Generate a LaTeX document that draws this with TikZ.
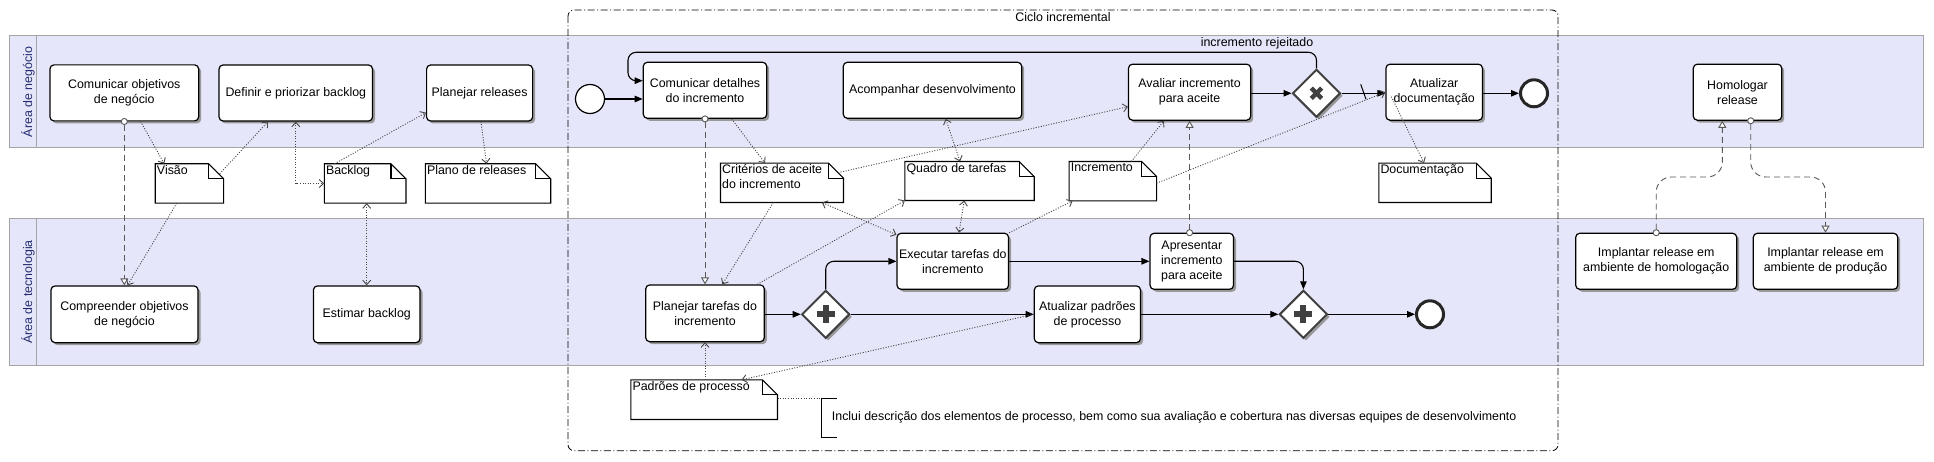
\documentclass[tikz,border=0pt]{standalone}
\usepackage{fontspec}
\setmainfont{Liberation Sans}
\usetikzlibrary{arrows.meta,shapes.geometric,shadows,calc}
\definecolor{lanefill}{RGB}{230,230,250}
\definecolor{laneline}{RGB}{165,165,165}
\definecolor{lanetext}{RGB}{35,45,110}
\definecolor{gwline}{RGB}{64,64,64}
\definecolor{assoc}{RGB}{70,70,70}
\tikzset{
  lane/.style={fill=lanefill, draw=laneline, line width=1pt},
  lanelab/.style={rotate=90, text=lanetext},
  group/.style={draw=black, line width=0.8pt, rounded corners=6pt, dash pattern=on 7pt off 2.5pt on 1pt off 2.5pt},
  shad/.style={drop shadow={shadow xshift=2.5pt, shadow yshift=-2.5pt, fill=black!40, opacity=1}},
  task/.style={draw=black, line width=1.2pt, fill=white, rounded corners=4pt, align=center, inner sep=2pt, shad},
  gw/.style={diamond, aspect=1, draw=gwline, line width=2pt, fill=white, minimum width=48pt, minimum height=48pt, inner sep=0pt, shad},
  gwmark/.style={draw=gwline},
  startev/.style={circle, draw=black, line width=1.2pt, fill=white, minimum size=29pt, inner sep=0pt},
  endev/.style={circle, draw=black!85, line width=3pt, fill=white, minimum size=27pt, inner sep=0pt},
  seq/.style={draw=black, line width=1.1pt, -{Triangle[length=8pt,width=6.5pt]}},
  assocl/.style={draw=assoc, line width=0.9pt, dash pattern=on 1pt off 1.6pt},
  toarr/.style={-{Straight Barb[length=4.5pt,width=8pt]}},
  botharr/.style={{Straight Barb[length=4.5pt,width=8pt]}-{Straight Barb[length=4.5pt,width=8pt]}},
  msg/.style={draw=black!65, line width=0.9pt, dash pattern=on 6pt off 4pt, shorten <=-3.5pt,
    {Circle[length=7pt,width=7pt,fill=white]}-{Triangle[length=7pt,width=8pt,fill=white]}},
  dobjbox/.style={draw=none, inner sep=0pt},
  dobjline/.style={draw=black, line width=1.1pt, fill=white},
  dobjtext/.style={anchor=north west, inner sep=1.5pt, align=left},
}
\newcommand{\dobj}[6]{%
  \node[dobjbox, minimum width=#4pt, minimum height=#5pt] (#1) at (#2,#3) {};
  \draw[dobjline] (#1.south west) -- (#1.north west) -- ([xshift=-15pt]#1.north east) -- ([yshift=-15pt]#1.north east) -- (#1.south east) -- cycle;
  \draw[dobjline, fill=none] ([xshift=-15pt]#1.north east) -- ([xshift=-15pt,yshift=-15pt]#1.north east) -- ([yshift=-15pt]#1.north east);
  \node[dobjtext] at (#1.north west) {#6};
}
\begin{document}
\begin{tikzpicture}[x=1pt,y=-1pt, every node/.style={font=\fontsize{12.4}{15}\selectfont}]
\useasboundingbox (0,0) rectangle (1934,462);
\fill[white] (0,0) rectangle (1934,462);
% lanes
\draw[lane] (9,36) rectangle (1923,148);
\draw[draw=laneline, line width=1pt] (36,36) -- (36,148);
\draw[lane] (9,219) rectangle (1923,365);
\draw[draw=laneline, line width=1pt] (36,219) -- (36,365);
\node[lanelab] (lb1) at (28,92) {Área de negócio};
\node[lanelab] (lb2) at (28,292) {Área de tecnologia};
% group
\draw[group] (568,10) rectangle (1558,450.7);
\node (grp) at (1063,17.5) {Ciclo incremental};

% tasks business
\node[task, minimum width=148.7pt, minimum height=56pt] (comobj) at (124.3,92.9) {Comunicar objetivos\\de negócio};
\node[task, minimum width=153.5pt, minimum height=56pt] (defback) at (295.8,93) {Definir e priorizar backlog};
\node[task, minimum width=106pt, minimum height=56pt] (planrel) at (479.6,93) {Planejar releases};
\node[task, minimum width=123.4pt, minimum height=56pt] (comdet) at (705,90.3) {Comunicar detalhes\\do incremento};
\node[task, minimum width=178.4pt, minimum height=56pt] (acomp) at (932.5,90.3) {Acompanhar desenvolvimento};
\node[task, minimum width=122.2pt, minimum height=56pt] (aval) at (1189.6,92.2) {Avaliar incremento\\para aceite};
\node[gw] (gwx) at (1316.5,93.3) {};
\node[task, minimum width=96.5pt, minimum height=56pt] (atdoc) at (1434.2,92.2) {Atualizar\\documentação};
\node[endev] (end1) at (1534,93.3) {};
\node[startev] (start) at (590,99) {};
\node[task, minimum width=88.4pt, minimum height=56pt] (homol) at (1737.5,92.2) {Homologar\\release};
% tasks technology
\node[task, minimum width=147pt, minimum height=56.7pt] (compobj) at (124.5,314.3) {Compreender objetivos\\de negócio};
\node[task, minimum width=106.6pt, minimum height=56.7pt] (estback) at (366.7,314.3) {Estimar backlog};
\node[task, minimum width=118.6pt, minimum height=56.7pt] (plantar) at (705,313.3) {Planejar tarefas do\\incremento};
\node[gw] (gw1) at (825.7,314.3) {};
\node[task, minimum width=111pt, minimum height=56pt] (exec) at (952.8,261.3) {Executar tarefas do\\incremento};
\node[task, minimum width=106.2pt, minimum height=56.7pt] (atpad) at (1087.4,314.3) {Atualizar padrões\\de processo};
\node[task, minimum width=83.5pt, minimum height=56pt] (apres) at (1191.8,261.3) {Apresentar\\incremento\\para aceite};
\node[gw] (gw2) at (1303.4,314.3) {};
\node[endev] (end2) at (1430,314.3) {};
\node[task, minimum width=161pt, minimum height=56pt] (implhom) at (1656.2,261.3) {Implantar release em\\ambiente de homologação};
\node[task, minimum width=144.4pt, minimum height=56pt] (implprod) at (1825.5,261.3) {Implantar release em\\ambiente de produção};

% gateway marks
\draw[gwmark, line width=4.5pt] ($(gwx)+(-5.2,-5.2)$) -- ($(gwx)+(5.2,5.2)$);
\draw[gwmark, line width=4.5pt] ($(gwx)+(-5.2,5.2)$) -- ($(gwx)+(5.2,-5.2)$);
\draw[gwmark, line width=6pt] ($(gw1)+(-9,0)$) -- ($(gw1)+(9,0)$);
\draw[gwmark, line width=6pt] ($(gw1)+(0,-9)$) -- ($(gw1)+(0,9)$);
\draw[gwmark, line width=6pt] ($(gw2)+(-9,0)$) -- ($(gw2)+(9,0)$);
\draw[gwmark, line width=6pt] ($(gw2)+(0,-9)$) -- ($(gw2)+(0,9)$);

% data objects
\dobj{visao}{189.45}{183.5}{68}{39}{Visão}
\dobj{backlog}{365.15}{183.5}{81.3}{39}{Backlog}
\dobj{plano}{488}{183.5}{125}{39}{Plano de releases}
\dobj{crit}{782}{182.8}{122.6}{39}{Critérios de aceite\\do incremento}
\dobj{quadro}{969.5}{181}{129}{38.6}{Quadro de tarefas}
\dobj{incr}{1112.85}{181.2}{87}{39}{Incremento}
\dobj{doc}{1435}{182.8}{112}{39}{Documentação}
\dobj{padroes}{704.15}{399.65}{146.3}{39.3}{Padrões de processo}

% annotation
\node[anchor=west, minimum height=39pt, inner xsep=10pt, inner ysep=0pt] (annot) at (821.7,417.8) {Inclui descrição dos elementos de processo, bem como sua avaliação e cobertura nas diversas equipes de desenvolvimento};
\draw[black, line width=1pt] ([xshift=15pt]annot.north west) -- (annot.north west) -- (annot.south west) -- ([xshift=15pt]annot.south west);
\draw[assocl] (padroes.east |- annot.north west) -- (annot.north west);

% sequence flows
\coordinate (lp1) at (1316.5,52.3);
\coordinate (lp2) at (628,52.3);
\coordinate (lp3) at (628,80.7);
\draw[seq] (start.east) -- (start.east -| comdet.west);
\draw[seq] (aval.east |- gwx.west) -- (gwx.west);
\draw[seq] (gwx.east) -- (gwx.east -| atdoc.west);
\draw[seq] (atdoc.east |- end1.west) -- (end1.west);
\draw[seq, rounded corners=8pt] (gwx.north) -- (lp1) -- (lp2) -- (lp3) -- (lp3 -| comdet.west);
\node (rej) at (1257,43.5) {incremento rejeitado};
\coordinate (sl1) at (1360.7,84.3);
\coordinate (sl2) at (1366,99.3);
\draw[black, line width=1pt] (sl1) -- (sl2);
\draw[seq] (plantar.east |- gw1.west) -- (gw1.west);
\draw[seq, rounded corners=8pt] (gw1.north) |- (exec.west);
\draw[seq] (gw1.east) -- (gw1.east -| atpad.west);
\draw[seq] (exec.east) -- (apres.west);
\draw[seq, rounded corners=8pt] (apres.east) -| (gw2.north);
\draw[seq] (atpad.east |- gw2.west) -- (gw2.west);
\draw[seq] (gw2.east) -- (end2.west);

% message flows
\coordinate (hm1) at (1722.3,177);
\coordinate (hm2) at (1750.7,177);
\draw[msg] (comobj.south) -- (comobj.south |- compobj.north);
\draw[msg] (comdet.south) -- (comdet.south |- plantar.north);
\draw[msg] (aval.south |- apres.north) -- (aval.south);
\draw[msg, rounded corners=15pt] (implhom.north) |- (hm1) -- (hm1 |- homol.south);
\draw[msg, rounded corners=15pt] (hm2 |- homol.south) -- (hm2) -| (implprod.north);

% associations
\draw[assocl, toarr] ([xshift=16.3pt]comobj.south) -- ([xshift=9pt]visao.north west);
\draw[assocl, toarr] ([xshift=-4pt,yshift=-10pt]visao.north east) -- ([xshift=-27.8pt]defback.south);
\draw[assocl, toarr] ([xshift=-12.7pt]visao.south) -- ([xshift=3pt]compobj.north);
\draw[assocl, botharr] (defback.south) |- (backlog.west);
\draw[assocl, toarr] ([xshift=10.3pt]backlog.north west) -- ([yshift=9pt]planrel.south west);
\draw[assocl, toarr] ([xshift=1.4pt]planrel.south) -- ([xshift=-1.5pt]plano.north);
\draw[assocl, botharr] (estback.north |- backlog.south) -- (estback.north);
\draw[assocl, toarr] ([xshift=26.7pt]comdet.south) -- ([xshift=-17pt]crit.north);
\draw[assocl, toarr] ([xshift=-3pt,yshift=-9pt]crit.north east) -- ([yshift=-14.5pt]aval.west);
\draw[assocl, toarr] ([xshift=-8.7pt]crit.south) -- ([xshift=17.3pt]plantar.north);
\draw[assocl, botharr] ([xshift=-21.6pt]crit.south east) -- ([yshift=-2pt]exec.north west);
\draw[assocl, toarr] ([xshift=-7.6pt]plantar.north east) -- (quadro.south west);
\draw[assocl, botharr] ([xshift=13.2pt]acomp.south) -- ([xshift=-9.5pt]quadro.north);
\draw[assocl, botharr] ([xshift=-5.2pt]quadro.south) -- ([xshift=6.2pt]exec.north);
\draw[assocl, toarr] (exec.north east) -- ([xshift=3.4pt]incr.south west);
\draw[assocl, toarr] ([xshift=18.4pt]incr.north) -- ([xshift=-25.6pt]aval.south);
\draw[assocl, toarr] ([yshift=-2pt]incr.east) -- (atdoc.west);
\draw[assocl, toarr] ([xshift=6pt,yshift=-4.5pt]atdoc.west) -- ([xshift=-11pt]doc.north);
\draw[assocl, toarr] (atpad.west) -- ([xshift=37.5pt]padroes.north);
\draw[assocl, toarr] (plantar.south |- padroes.north) -- (plantar.south);
\end{tikzpicture}
\end{document}
